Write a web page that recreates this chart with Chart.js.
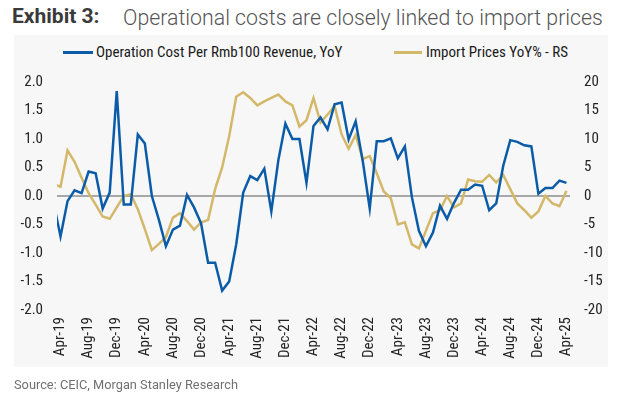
<!DOCTYPE html>
<html>
<head>
<meta charset="utf-8">
<script src="https://cdn.jsdelivr.net/npm/chart.js@4/dist/chart.umd.min.js"></script>
<style>
  html, body { margin:0; padding:0; background:#ffffff; width:622px; height:399px; overflow:hidden; }
  #panel { position:absolute; left:14px; top:35px; width:594px; height:332px; background:#f7f7f7; }
  #title { position:absolute; left:12px; top:4px; white-space:nowrap; font-family:Roboto, 'Liberation Sans', sans-serif; }
  #title .b { font-weight:700; font-size:21px; color:#3a3a3a; }
  #title .l { font-weight:300; font-size:21.3px; color:#555555; position:absolute; left:111px; top:1px; }
  #source { position:absolute; left:14px; top:377px; font-family:Roboto, 'Liberation Sans', sans-serif; font-size:12.8px; color:#707070; white-space:nowrap; }
  .leg { position:absolute; top:43px; font-family:'Liberation Sans Narrow','Roboto Condensed','DejaVu Sans Condensed',Roboto,sans-serif; font-size:15px; color:#1a1a1a; white-space:nowrap; line-height:18px; }
  .leg i { position:absolute; top:8px; height:3px; }
  #wrap { position:absolute; left:0; top:0; width:622px; height:399px; }
</style>
</head>
<body>
<div id="panel"></div>
<div id="title"><span class="b">Exhibit 3:</span><span class="l">Operational costs are closely linked to import prices</span></div>
<div class="leg" id="leg1" style="left:63px;"><i style="left:0;width:30px;background:#0b5ca8;"></i><span style="position:absolute;left:33px;">Operation Cost Per Rmb100 Revenue, YoY</span></div>
<div class="leg" id="leg2" style="left:394px;"><i style="left:0;width:28px;background:#d4b86a;"></i><span style="position:absolute;left:32px;">Import Prices YoY% - RS</span></div>
<div id="wrap"><canvas id="c" width="622" height="399"></canvas></div>
<div id="source">Source: CEIC, Morgan Stanley Research</div>
<script>
const months = ['Mar-19',
  'Apr-19','May-19','Jun-19','Jul-19','Aug-19','Sep-19','Oct-19','Nov-19','Dec-19','Jan-20','Feb-20','Mar-20',
  'Apr-20','May-20','Jun-20','Jul-20','Aug-20','Sep-20','Oct-20','Nov-20','Dec-20','Jan-21','Feb-21','Mar-21',
  'Apr-21','May-21','Jun-21','Jul-21','Aug-21','Sep-21','Oct-21','Nov-21','Dec-21','Jan-22','Feb-22','Mar-22',
  'Apr-22','May-22','Jun-22','Jul-22','Aug-22','Sep-22','Oct-22','Nov-22','Dec-22','Jan-23','Feb-23','Mar-23',
  'Apr-23','May-23','Jun-23','Jul-23','Aug-23','Sep-23','Oct-23','Nov-23','Dec-23','Jan-24','Feb-24','Mar-24',
  'Apr-24','May-24','Jun-24','Jul-24','Aug-24','Sep-24','Oct-24','Nov-24','Dec-24','Jan-25','Feb-25','Mar-25',
  'Apr-25'];

const tickLabels = ['Apr-19','Aug-19','Dec-19','Apr-20','Aug-20','Dec-20','Apr-21','Aug-21','Dec-21',
  'Apr-22','Aug-22','Dec-22','Apr-23','Aug-23','Dec-23','Apr-24','Aug-24','Dec-24','Apr-25'];

const operationCost = [-0.11,
  -0.71,-0.09,0.10,0.05,0.43,0.40,-0.22,0.06,1.84,-0.15,-0.15,1.08,
  0.92,0.00,-0.42,-0.88,-0.59,-0.52,0.02,-0.20,-0.48,-1.17,-1.17,-1.66,
  -1.50,-0.85,0.06,0.35,0.28,0.48,-0.27,0.63,1.27,1.00,1.00,0.23,
  1.23,1.38,1.17,1.61,1.64,0.99,1.31,0.62,-0.22,0.96,0.96,1.01,
  0.66,0.87,-0.02,-0.61,-0.88,-0.64,-0.17,-0.40,-0.12,0.11,0.11,0.20,
  0.18,-0.25,-0.13,0.53,0.98,0.95,0.89,0.87,0.04,0.14,0.14,0.27,
  0.23];

const importPrices = [2.1,
  1.6,8.0,6.0,3.2,0.5,-1.5,-3.6,-4.0,-2.0,0.0,0.3,-2.3,
  -5.8,-9.5,-8.4,-7.2,-3.8,-3.0,-4.4,-5.9,-4.6,-4.2,1.2,5.0,
  10.5,17.4,18.2,17.2,15.9,16.6,17.2,17.8,16.6,15.9,12.2,13.3,
  17.2,12.9,14.3,15.8,10.8,8.3,10.7,6.5,7.0,4.0,0.8,-0.4,
  -5.0,-4.6,-8.5,-9.2,-6.1,-3.0,-2.5,0.0,-2.0,-1.3,2.9,2.6,
  2.5,3.7,2.4,3.7,1.2,-1.3,-2.5,-3.8,-2.7,0.0,-1.3,-1.8,
  0.9];

const seriesNames = ['Operation Cost Per Rmb100 Revenue, YoY', 'Import Prices YoY% - RS'];

const narrow = "'Liberation Sans Narrow','Roboto Condensed','DejaVu Sans Condensed',Roboto,sans-serif";

new Chart(document.getElementById('c'), {
  type: 'line',
  data: {
    labels: months,
    datasets: [
      { label: seriesNames[0], data: operationCost, yAxisID: 'y', borderColor: '#0b5ca8', backgroundColor: '#0b5ca8',
        borderWidth: 2.5, pointRadius: 0, tension: 0 },
      { label: seriesNames[1], data: importPrices, yAxisID: 'y2', borderColor: '#d4b86a', backgroundColor: '#d4b86a',
        borderWidth: 2.5, pointRadius: 0, tension: 0 }
    ]
  },
  options: {
    responsive: false,
    animation: false,
    layout: { padding: { left: 0, right: 0, top: 82, bottom: 39 } },
    plugins: { legend: { display: false }, title: { display: false }, tooltip: { enabled: false } },
    scales: {
      x: {
        type: 'category',
        min: 'Apr-19',
        offset: true,
        grid: { display: false, drawTicks: false },
        border: { display: false },
        afterFit: s => { s.height = 50; },
        ticks: {
          autoSkip: false, maxRotation: 90, minRotation: 90, padding: 7,
          color: '#222222', font: { family: narrow, size: 15 },
          callback: function(v) { const l = this.getLabelForValue(v); return tickLabels.includes(l) ? l : ''; }
        }
      },
      y: {
        position: 'left', min: -2, max: 2,
        afterFit: s => { s.width = 57; },
        border: { display: false },
        grid: { drawTicks: false, lineWidth: 2, color: c => c.tick.value === 0 ? '#a8a8a8' : 'rgba(0,0,0,0)' },
        ticks: { stepSize: 0.5, padding: 14, color: '#222222', font: { family: narrow, size: 15 },
          callback: v => Number(v).toFixed(1) }
      },
      y2: {
        position: 'right', min: -20, max: 20,
        afterFit: s => { s.width = 52; },
        border: { display: false },
        grid: { display: false, drawTicks: false },
        ticks: { stepSize: 5, padding: 14, color: '#222222', font: { family: narrow, size: 15 } }
      }
    }
  }
});
</script>
</body>
</html>
